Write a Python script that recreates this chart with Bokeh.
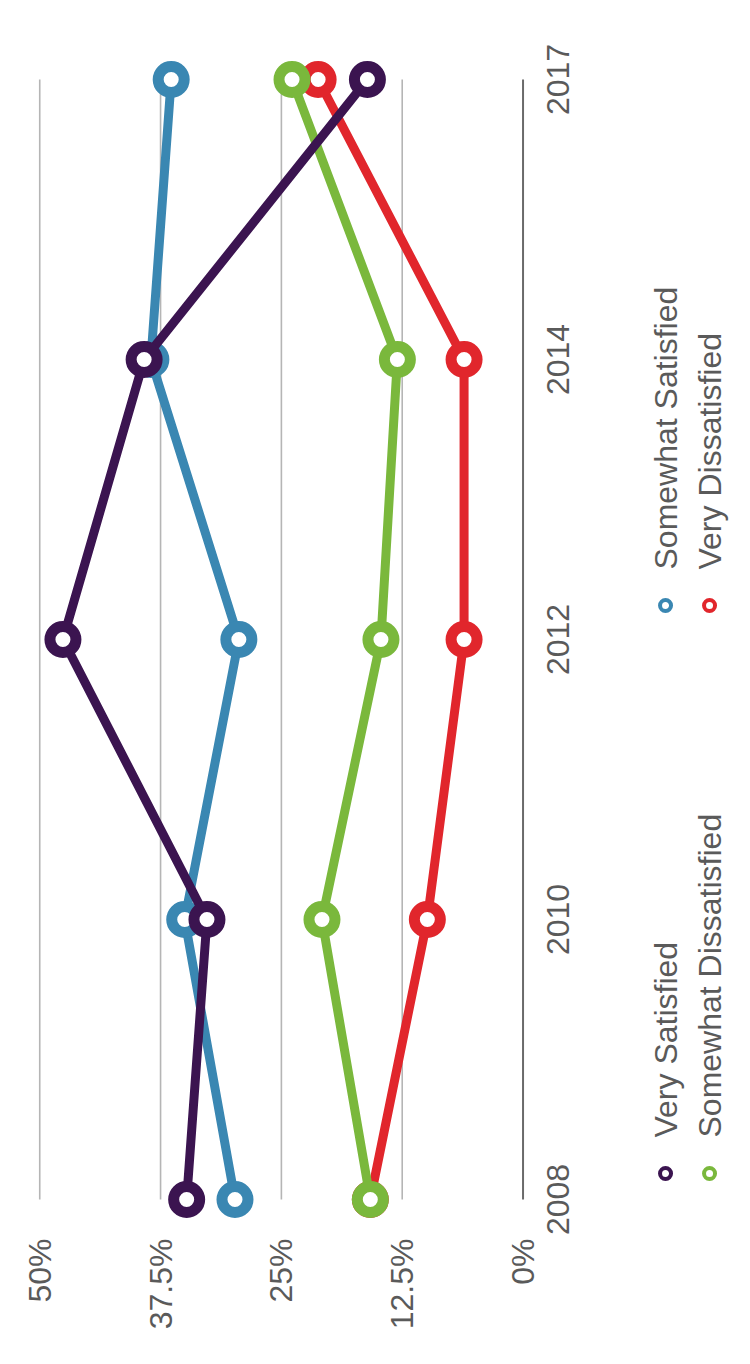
import math
from bokeh.plotting import figure
from bokeh.models import Range1d, FixedTicker, CustomJSTickFormatter, ColumnDataSource
from bokeh.core.properties import value
from bokeh.embed import file_html
from bokeh.resources import INLINE

# ---------------- data ----------------
years = ["2008", "2010", "2012", "2014", "2017"]
series_names = ["Very Satisfied", "Somewhat Satisfied", "Somewhat Dissatisfied", "Very Dissatisfied"]
very_satisfied = [34.8, 32.7, 47.6, 39.2, 16.1]
somewhat_satisfied = [29.8, 35.0, 29.4, 38.5, 36.4]
somewhat_dissatisfied = [15.8, 20.8, 14.7, 13.0, 23.9]
very_dissatisfied = [15.8, 9.9, 6.1, 6.1, 21.2]
pct_ticks = [0, 12.5, 25, 37.5, 50]
series_colors = ["#3b1450", "#3a87b2", "#7ab83c", "#e1262c"]

series_values = [very_satisfied, somewhat_satisfied, somewhat_dissatisfied, very_dissatisfied]

# ---------------- layout constants (pixels) ----------------
PX_PER_PCT = 9.666
PX_PER_STEP = 280.0
FRAME_W = 710
FRAME_H = 1210
LEFT = 20
TOP = 28
X_START = 51.99          # value at the left frame edge
PAD_TOP = 51 / PX_PER_STEP
PAD_BOTTOM = 39 / PX_PER_STEP

def px_x(px):            # horizontal pixel offset rightwards from 0% -> data units
    return -px / PX_PER_PCT

def px_y(px):            # vertical pixel offset upwards -> data units
    return px / PX_PER_STEP

FONT = value("Liberation Sans")
TXT = "#5a5a5a"

pos = list(range(len(years)))

p = figure(frame_width=FRAME_W, frame_height=FRAME_H,
           x_range=Range1d(X_START, X_START - FRAME_W / PX_PER_PCT),
           y_range=Range1d(-PAD_BOTTOM, pos[-1] + PAD_TOP),
           y_axis_location=None, toolbar_location=None,
           output_backend="svg", min_border_left=LEFT, min_border_top=TOP,
           min_border_right=4, min_border_bottom=8,
           background_fill_color="white", border_fill_color="white")
p.outline_line_color = None
p.xgrid.visible = False
p.ygrid.visible = False

ax = p.xaxis[0]
ax.ticker = FixedTicker(ticks=pct_ticks)
ax.formatter = CustomJSTickFormatter(code="return tick + '%';")
ax.major_label_orientation = math.pi / 2
ax.axis_line_color = None
ax.major_tick_line_color = None
ax.minor_tick_line_color = None
ax.major_tick_in = 0
ax.major_tick_out = 0
ax.major_label_standoff = 0
ax.major_label_text_font = "Liberation Sans"
ax.major_label_text_font_size = "32px"
ax.major_label_text_color = TXT

# gridlines spanning first..last year
grid_vals = [t for t in pct_ticks if t > 0]
p.segment(x0=grid_vals, x1=grid_vals, y0=[pos[0]] * len(grid_vals), y1=[pos[-1]] * len(grid_vals),
          line_color="#b5b5b5", line_width=1.6)
p.segment(x0=[0], x1=[0], y0=[pos[0]], y1=[pos[-1]], line_color="#6a6a6a", line_width=2)

# series (drawn last-first so Very Satisfied is on top)
for name, vals, col in reversed(list(zip(series_names, series_values, series_colors))):
    src = ColumnDataSource(dict(x=vals, y=pos))
    p.line("x", "y", source=src, line_color=col, line_width=9, line_join="round")
    p.scatter("x", "y", source=src, size=26, line_color=col, line_width=11, fill_color="white")

# year labels
p.text(x=[px_x(35)] * len(years), y=pos, text=years, angle=math.pi / 2,
       text_align="center", text_baseline="middle", text_font=FONT,
       text_font_size="32px", text_color=TXT)

# legend (rotated, 2 columns x 2 rows)
leg_x = [px_x(142.5), px_x(142.5), px_x(186.5), px_x(186.5)]
row_y = [px_y(26), px_y(594)]
leg_y = [row_y[i % 2] for i in range(4)]
p.scatter(leg_x, leg_y, size=11, line_width=4, line_color=series_colors, fill_color="white")
p.text(x=leg_x, y=[v + px_y(36) for v in leg_y], text=series_names, angle=math.pi / 2,
       text_align="left", text_baseline="middle", text_font=FONT,
       text_font_size="32px", text_color=TXT)

open("out.html", "w").write(file_html(p, INLINE))
